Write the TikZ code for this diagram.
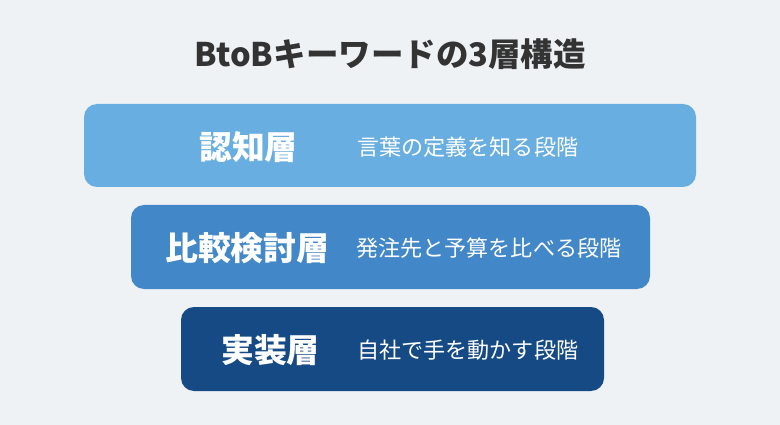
\documentclass[tikz,border=0pt]{standalone}
\usepackage{fontspec}
\setmainfont{Noto Sans CJK JP}
\newfontfamily\cjk{Noto Sans CJK JP}
\definecolor{bgc}{HTML}{EFF2F5}
\definecolor{titlec}{HTML}{333333}
\definecolor{layerA}{HTML}{68AEE0}
\definecolor{layerB}{HTML}{4287C8}
\definecolor{layerC}{HTML}{164A85}
\tikzset{
  layer/.style={rounded corners=13pt, inner sep=0pt, draw=none},
  lname/.style={text=white, font=\cjk\bfseries\fontsize{32.8}{38}\selectfont, inner sep=0pt, anchor=west},
  ldesc/.style={text=white, font=\cjk\fontsize{22.1}{26}\selectfont, inner sep=0pt, anchor=west},
  titlestyle/.style={text=titlec, font=\cjk\bfseries\fontsize{32.5}{38}\selectfont, inner sep=0pt}
}
\begin{document}
\begin{tikzpicture}[x=1pt,y=-1pt]
\fill[bgc] (0,0) rectangle (780,425);
\useasboundingbox (0,0) rectangle (780,425);
\node[titlestyle] (title) at (390,54) {BtoBキーワードの3層構造};
\fill[layerA, layer] (84,104) rectangle (696,187);
\fill[layerB, layer] (131,205) rectangle (650,289);
\fill[layerC, layer] (181,307) rectangle (604,391);
\node[lname] (n1) at (199,147) {認知層};
\node[ldesc] (d1) at (357,147) {言葉の定義を知る段階};
\node[lname] (n2) at (165,248) {比較検討層};
\node[ldesc] (d2) at (356,248) {発注先と予算を比べる段階};
\node[lname] (n3) at (221,350) {実装層};
\node[ldesc] (d3) at (357,350) {自社で手を動かす段階};
\end{tikzpicture}
\end{document}
